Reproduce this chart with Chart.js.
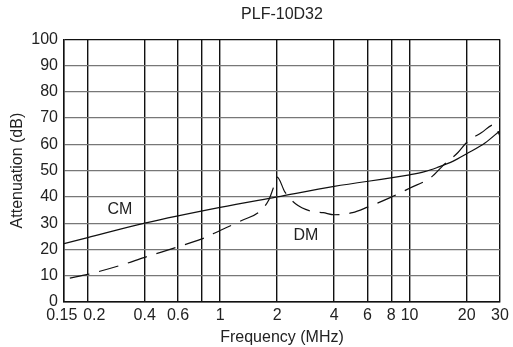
<!DOCTYPE html>
<html>
<head>
<meta charset="utf-8">
<script src="https://cdn.jsdelivr.net/npm/chart.js@4/dist/chart.umd.min.js"></script>
<style>
  html, body { margin: 0; padding: 0; background: #fff; }
  #wrap { width: 513px; height: 347px; }
</style>
</head>
<body>
<div id="wrap"><canvas id="myChart"></canvas></div>
<script>
// data
const xTicks = [0.15, 0.2, 0.4, 0.6, 0.8, 1, 2, 4, 6, 8, 10, 20, 30];
const xLabels = ['0.15 ', '   0.2', '0.4', '0.6', '', '1', '2', '4', '6', '8', '10', '20', '30'];
const cmFreq = [0.15, 0.2, 0.4, 1, 2, 4, 10, 12, 14, 17, 20, 25, 30];
const cmAtt = [22.2, 24.5, 30, 36, 40, 44, 48.4, 49.6, 51.2, 53.6, 56.4, 60.5, 65.2];
const dmFreq = [0.161, 0.2, 0.3, 0.4, 0.6, 0.8, 1, 1.3, 1.6, 1.8, 1.9, 2.0, 2.2, 2.5, 3.0, 3.5, 4, 5, 6, 8, 10, 13, 15, 18, 20, 24, 28, 30];
const dmAtt = [9.1, 10.5, 14, 17, 21, 24, 27.2, 31, 34.2, 38.6, 43, 47.5, 41.8, 37.4, 34.6, 34, 33.2, 34, 36.1, 39.9, 43.3, 47.5, 51.9, 56.9, 60.7, 64.5, 67.5, 63];
const notes = [
    { text: 'CM', x: 0.296, y: 35.2 },
    { text: 'DM', x: 2.84, y: 25.3 },
];

const toPts = (xs, ys) => xs.map((x, i) => ({ x: x, y: ys[i] }));
const ink = '#222';
const font = 'Liberation Sans, Arial, Helvetica, sans-serif';

// draws the CM / DM labels inside the plot
const notePlugin = {
    id: 'notes',
    afterDatasetsDraw(chart) {
        const ctx = chart.ctx;
        const xs = chart.scales.x, ys = chart.scales.y;
        ctx.save();
        ctx.fillStyle = ink;
        ctx.font = '16px ' + font;
        ctx.textAlign = 'center';
        ctx.textBaseline = 'middle';
        notes.forEach(n => {
            ctx.fillText(n.text, xs.getPixelForValue(n.x), ys.getPixelForValue(n.y));
        });
        ctx.restore();
    }
};

const config = {
    type: 'line',
    data: {
        datasets: [{
            label: 'CM',
            data: toPts(cmFreq, cmAtt),
            borderColor: '#111',
            borderWidth: 1.2,
            pointRadius: 0,
            cubicInterpolationMode: 'monotone',
        }, {
            label: 'DM',
            data: toPts(dmFreq, dmAtt),
            borderColor: '#111',
            borderWidth: 1.2,
            borderDash: [20, 10],
            pointRadius: 0,
            cubicInterpolationMode: 'monotone',
        }]
    },
    options: {
        responsive: true,
        maintainAspectRatio: false,
        animation: false,
        layout: { padding: { top: 3, right: 13, bottom: 0, left: 0 } },
        plugins: {
            legend: { display: false },
            tooltip: { enabled: false },
            title: {
                display: true,
                text: 'PLF-10D32',
                fullSize: false,
                color: ink,
                font: { family: font, size: 16, weight: 'normal' },
                padding: { top: 2, bottom: 15 },
            },
        },
        scales: {
            x: {
                type: 'logarithmic',
                min: 0.15,
                max: 30,
                afterBuildTicks: (axis) => {
                    axis.ticks = xTicks.map(v => ({ value: v }));
                },
                afterFit: (axis) => { axis.height = 45; },
                ticks: {
                    autoSkip: false,
                    maxRotation: 0,
                    color: ink,
                    padding: 4,
                    font: { family: font, size: 16 },
                    callback: (v, i) => xLabels[i],
                },
                grid: { color: '#111', lineWidth: 1.4, drawTicks: false },
                border: { color: '#111', width: 1.4 },
                title: {
                    display: true,
                    text: 'Frequency (MHz)',
                    color: ink,
                    font: { family: font, size: 16 },
                    padding: { top: 0, bottom: 0 },
                },
            },
            y: {
                min: 0,
                max: 100,
                afterFit: (axis) => { axis.width = 64; },
                ticks: {
                    stepSize: 10,
                    color: ink,
                    padding: 6,
                    font: { family: font, size: 16 },
                },
                grid: {
                    color: (c) => (c.tick && (c.tick.value === 0 || c.tick.value === 100)) ? '#111' : '#777',
                    lineWidth: 1.2,
                    drawTicks: false,
                },
                border: { color: '#111', width: 1.4 },
                title: {
                    display: true,
                    text: 'Attenuation (dB)',
                    color: ink,
                    font: { family: font, size: 16 },
                    padding: { top: 8, bottom: 2 },
                },
            },
        },
    },
    plugins: [notePlugin],
};

let myChart = new Chart('myChart', config);
</script>
</body>
</html>
